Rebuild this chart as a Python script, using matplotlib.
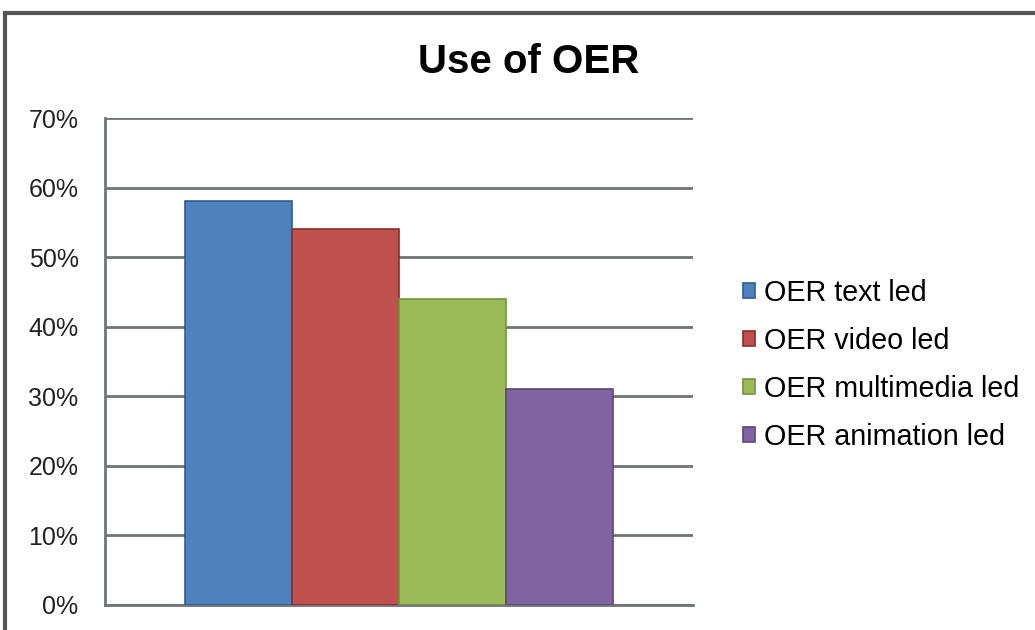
import numpy as np
import matplotlib.pyplot as plt
from matplotlib.lines import Line2D

plt.rcParams['font.family'] = ['Liberation Sans', 'DejaVu Sans']

# data
series = ['OER text led', 'OER video led', 'OER multimedia led', 'OER animation led']
values = [58, 54, 44, 31]
colors = ['#4F81BD', '#C0504D', '#9BBB59', '#8064A2']
edges = ['#2C5D92', '#8C2D2A', '#76933C', '#5C4776']
yticks = [0, 10, 20, 30, 40, 50, 60, 70]

fig = plt.figure(figsize=(10.35, 6.3), dpi=100)
ax = fig.add_axes([105 / 1035, 1 - 605 / 630, 588 / 1035, 487 / 630])

width = 0.182
offsets = (np.arange(len(series)) - 1.5) * width
for off, v, c, e, name in zip(offsets, values, colors, edges, series):
    ax.bar(off, v, width=width, color=c, edgecolor=e, linewidth=1.2, label=name, zorder=3)

ax.set_xlim(-0.5, 0.5)
ax.set_ylim(0, 70)
ax.set_yticks(yticks)
ax.set_yticklabels([f'{t}%' for t in yticks], fontsize=18, color='#222222')
ax.set_xticks([])
ax.tick_params(axis='y', length=0, pad=19)
for t in yticks:
    ax.axhline(t, color='#6E7477', linewidth=2, zorder=1)
for s in ['top', 'right']:
    ax.spines[s].set_visible(False)
ax.spines['left'].set_color('#6E7477')
ax.spines['left'].set_linewidth(2)
ax.spines['bottom'].set_color('#6E7477')
ax.spines['bottom'].set_linewidth(2)

fig.text(529 / 1035, 1 - 62 / 630, 'Use of OER', fontsize=29, fontweight='bold',
         ha='center', va='center')

fig.legend(loc='center left', bbox_to_anchor=(743 / 1035, 1 - 365 / 630),
           frameon=False, fontsize=20.7, handlelength=0.42, handleheight=0.42,
           handletextpad=0.3, labelspacing=0.7, borderpad=0, borderaxespad=0)

# outer chart frame (cut off on the right and bottom)
fig.add_artist(Line2D([5 / 1035, 1.0], [1 - 13 / 630] * 2, color='#555555', linewidth=3))
fig.add_artist(Line2D([5 / 1035] * 2, [0, 1 - 13 / 630], color='#555555', linewidth=3))

fig.savefig('out.png', dpi=100)
